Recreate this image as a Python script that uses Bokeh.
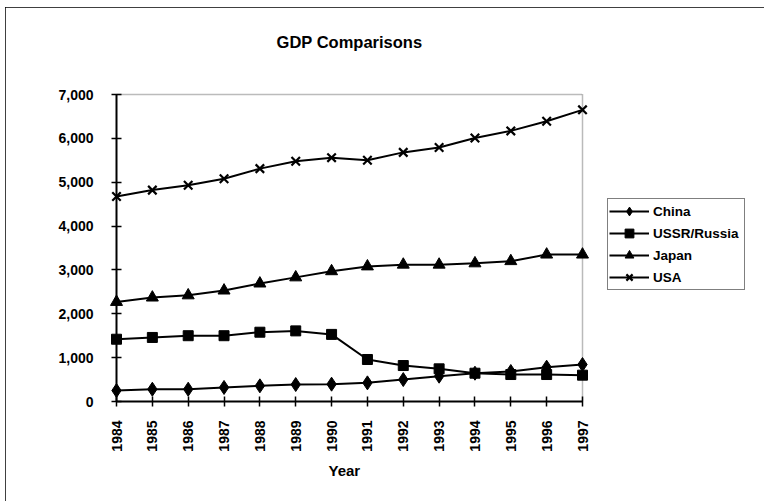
from bokeh.plotting import figure
from bokeh.models import (Range1d, FixedTicker, NumeralTickFormatter, Legend,
                          LegendItem, ColumnDataSource, Label, Title)
from bokeh.embed import file_html
from bokeh.resources import INLINE
import math

years = [1984, 1985, 1986, 1987, 1988, 1989, 1990, 1991, 1992, 1993, 1994, 1995, 1996, 1997]
china = [250, 280, 280, 320, 357, 387, 395, 425, 500, 577, 645, 684, 783, 843]
russia = [1420, 1460, 1500, 1500, 1580, 1610, 1530, 958, 820, 745, 645, 615, 615, 600]
japan = [2270, 2370, 2420, 2530, 2690, 2830, 2970, 3080, 3120, 3120, 3150, 3200, 3350, 3350]
usa = [4674, 4820, 4930, 5080, 5310, 5480, 5560, 5500, 5680, 5790, 6010, 6170, 6390, 6650]
y_ticks = [0, 1000, 2000, 3000, 4000, 5000, 6000, 7000]
y_max = 7000

FONT = "Liberation Sans"

# plot area: years[0]..years[-1] horizontally, 0..y_max vertically;
# the frame is extended to the right/top to host the legend and the title
x_end = years[0] + (years[-1] - years[0]) * 634 / 466
y_end = y_max * (1 + 74 / 307)

p = figure(width=759, height=494, output_backend="svg", toolbar_location=None,
           x_range=Range1d(years[0], x_end), y_range=Range1d(0, y_end),
           min_border_left=111, min_border_right=14, min_border_top=13,
           min_border_bottom=100)
p.styles = {"outline": "1.5px solid black", "outline-offset": "-1px",
            "margin-left": "5px", "margin-top": "7px"}

p.xgrid.visible = False
p.ygrid.visible = False
p.outline_line_color = None

for ax in (p.xaxis[0], p.yaxis[0]):
    ax.axis_line_color = "black"
    ax.axis_line_width = 2
    ax.major_tick_line_color = "black"
    ax.major_tick_line_width = 1.5
    ax.major_tick_in = 5
    ax.major_tick_out = 5
    ax.minor_tick_line_color = None
    ax.major_label_text_font = FONT
    ax.major_label_text_font_style = "bold"
    ax.major_label_text_font_size = "14px"
    ax.major_label_text_color = "black"

p.xaxis.ticker = FixedTicker(ticks=years)
p.xaxis.bounds = (years[0], years[-1])
p.xaxis.major_label_orientation = math.pi / 2
p.xaxis.major_label_standoff = 14

p.yaxis.ticker = FixedTicker(ticks=y_ticks)
p.yaxis.bounds = (0, y_max)
p.yaxis.formatter = NumeralTickFormatter(format="0,0")
p.yaxis.major_label_standoff = 18

xtitle = Title(text="Year", align="left", offset=212, standoff=10,
               text_font=FONT, text_font_style="bold", text_font_size="15px",
               text_color="black")
p.add_layout(xtitle, "below")

# dotted plot-area border (top and right)
p.segment(x0=[years[0], years[-1]], y0=[y_max, 0], x1=[years[-1], years[-1]],
          y1=[y_max, y_max], line_color="#777777", line_dash="1 1", line_width=1.5)

src = ColumnDataSource(dict(x=years, china=china, russia=russia, japan=japan, usa=usa))

items = []
specs = [("China", "china", "diamond", 14, 1),
         ("USSR/Russia", "russia", "square", 10, 1),
         ("Japan", "japan", "triangle", 12, 1),
         ("USA", "usa", "x", 12, 2.2)]
for label, col, marker, size, lw in specs:
    lr = p.line("x", col, source=src, line_color="black", line_width=2)
    mr = p.scatter("x", col, source=src, marker=marker, size=size,
                   fill_color="black", line_color="black", line_width=lw,
                   level="overlay")
    items.append(LegendItem(label=label, renderers=[lr, mr]))

legend = Legend(items=items, location=(491, 111), orientation="vertical")
legend.label_text_font = FONT
legend.label_text_font_style = "bold"
legend.label_text_font_size = "13.5px"
legend.label_text_color = "black"
legend.glyph_width = 40
legend.glyph_height = 22
legend.label_height = 22
legend.label_width = 90
legend.label_standoff = 4
legend.spacing = 0
legend.padding = 1
legend.margin = 0
legend.border_line_color = "black"
legend.border_line_width = 1.5
legend.background_fill_alpha = 1
p.add_layout(legend)

title = Label(x=(years[0] + years[-1]) / 2, y=y_max * (1 + 53 / 307),
              text="GDP Comparisons", text_align="center", text_baseline="middle",
              text_font=FONT, text_font_style="bold", text_font_size="16.5px",
              text_color="black")
p.add_layout(title)

open("out.html", "w").write(file_html(p, INLINE))
